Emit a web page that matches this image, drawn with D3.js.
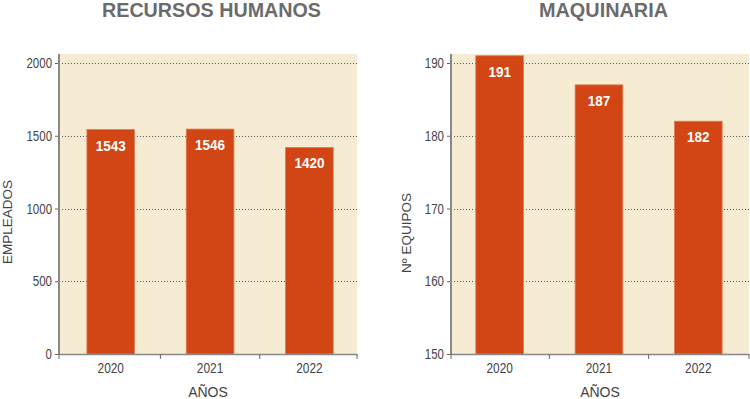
<!DOCTYPE html>
<html>
<head>
<meta charset="utf-8">
<script src="https://cdn.jsdelivr.net/npm/d3@7"></script>
<style>
  body { margin: 0; background: #fff; }
  svg text { font-family: "Liberation Sans", Arial, sans-serif; }
</style>
</head>
<body>
<svg id="chart" width="750" height="399"></svg>
<script>
// values
var years = ['2020', '2021', '2022'];
var empleados = [1543, 1546, 1420];
var equipos = [191, 187, 182];
var empleadosTicks = [0, 500, 1000, 1500, 2000];
var equiposTicks = [150, 160, 170, 180, 190];

var svg = d3.select('#chart');
var plotTop = 54, plotBottom = 354;
var narrow = 0.82; // squeeze glyphs, the original uses a condensed face

function place(sel, x, y, sx) {
  return sel.attr('transform', 'translate(' + x + ',' + y + ') scale(' + sx + ',1)');
}

function drawPanel(opt) {
  var g = svg.append('g');

  var x = d3.scaleBand()
    .domain(years)
    .range([opt.left, opt.right])
    .paddingInner(0.52)
    .paddingOuter(0.26)
    .align(opt.align);

  var y = d3.scaleLinear()
    .domain(opt.domain)
    .range([plotBottom, plotTop]);

  // background
  g.append('rect')
    .attr('x', opt.left).attr('y', plotTop)
    .attr('width', opt.right - opt.left).attr('height', plotBottom - plotTop)
    .attr('fill', '#f6ecd4');

  // dotted grid lines
  g.selectAll('.grid')
    .data(opt.ticks.slice(1))
    .enter().append('line')
    .attr('x1', opt.left).attr('x2', opt.right)
    .attr('y1', function(d) { return Math.round(y(d)) + 0.5 })
    .attr('y2', function(d) { return Math.round(y(d)) + 0.5 })
    .attr('stroke', '#555')
    .attr('stroke-width', 1)
    .attr('stroke-dasharray', '1,2');

  // bars
  g.selectAll('.bar')
    .data(opt.values)
    .enter().append('rect')
    .attr('x', function(d, i) { return x(years[i]) })
    .attr('y', function(d) { return y(d) })
    .attr('width', x.bandwidth())
    .attr('height', function(d) { return plotBottom - y(d) })
    .attr('fill', '#d14614')
    .attr('stroke', '#e27b52')
    .attr('stroke-width', 0.8);

  g.selectAll('.val')
    .data(opt.values)
    .enter().append('text')
    .each(function(d, i) {
      place(d3.select(this), x(years[i]) + x.bandwidth() / 2, y(d) + 21, 0.9);
    })
    .attr('text-anchor', 'middle')
    .attr('fill', '#fff')
    .attr('font-weight', 'bold')
    .attr('font-size', '15px')
    .text(function(d) { return d });

  // y axis
  var yAxis = g.append('g')
    .attr('transform', 'translate(' + opt.left + ',0)')
    .call(d3.axisLeft(y).tickValues(opt.ticks).tickFormat(d3.format('d')).tickSize(4).tickPadding(3));
  yAxis.select('.domain').remove();
  yAxis.selectAll('.tick line').attr('stroke', '#666');
  yAxis.selectAll('.tick text')
    .attr('x', -7 / narrow)
    .attr('transform', 'scale(' + narrow + ',1)')
    .attr('fill', '#444').attr('font-size', '14px')
    .attr('font-family', null);
  g.append('line')
    .attr('x1', opt.left).attr('x2', opt.left)
    .attr('y1', plotTop).attr('y2', plotBottom + 1)
    .attr('stroke', '#888').attr('stroke-width', 2);

  // x axis, ticks at band edges
  g.append('line')
    .attr('x1', opt.left).attr('x2', opt.right)
    .attr('y1', plotBottom + 0.5).attr('y2', plotBottom + 0.5)
    .attr('stroke', '#888').attr('stroke-width', 1.5);
  var edges = years.map(function(d) { return x(d) - x.step() * x.paddingInner() / 2 });
  edges[0] = opt.left;
  edges.push(opt.right);
  g.selectAll('.xtick')
    .data(edges)
    .enter().append('line')
    .attr('x1', function(d) { return d }).attr('x2', function(d) { return d })
    .attr('y1', plotBottom).attr('y2', plotBottom + 5)
    .attr('stroke', '#666');
  g.selectAll('.xlab')
    .data(years)
    .enter().append('text')
    .each(function(d) {
      place(d3.select(this), x(d) + x.bandwidth() / 2, plotBottom + 19, narrow);
    })
    .attr('text-anchor', 'middle')
    .attr('fill', '#444')
    .attr('font-size', '14.5px')
    .text(function(d) { return d });

  // titles
  g.append('text')
    .attr('x', opt.titleX)
    .attr('y', 16.5)
    .attr('text-anchor', 'middle')
    .attr('fill', '#6b6b6b')
    .attr('font-weight', 'bold')
    .attr('font-size', '20.5px')
    .attr('textLength', opt.titleW)
    .attr('lengthAdjust', 'spacingAndGlyphs')
    .text(opt.title);

  g.append('text')
    .attr('x', (opt.left + opt.right) / 2)
    .attr('y', 397)
    .attr('text-anchor', 'middle')
    .attr('fill', '#444')
    .attr('font-size', '14px')
    .text('AÑOS');

  g.append('text')
    .attr('transform', 'translate(' + opt.ylabX + ',' + opt.ylabY + ') rotate(-90)')
    .attr('text-anchor', 'middle')
    .attr('fill', '#444')
    .attr('font-size', '13.5px')
    .text(opt.ylabel);
}

drawPanel({
  left: 59, right: 357,
  align: 0.54,
  domain: [0, 2062],
  ticks: empleadosTicks,
  values: empleados,
  title: 'RECURSOS HUMANOS',
  titleX: 211.5, titleW: 219,
  ylabel: 'EMPLEADOS',
  ylabX: 12, ylabY: 222
});

drawPanel({
  left: 451, right: 749,
  align: 0.48,
  domain: [150, 191.24],
  ticks: equiposTicks,
  values: equipos,
  title: 'MAQUINARIA',
  titleX: 603.5, titleW: 129,
  ylabel: 'Nº EQUIPOS',
  ylabX: 411, ylabY: 233
});
</script>
</body>
</html>
